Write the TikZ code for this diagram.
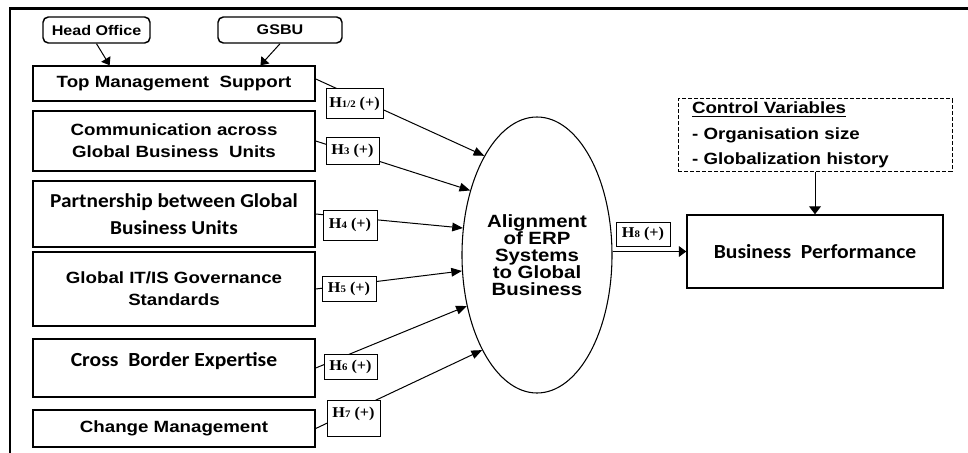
\documentclass[tikz,border=0pt]{standalone}
\usepackage{fontspec}
\usetikzlibrary{shapes.geometric,arrows.meta,calc}
\newfontfamily\arialf{Liberation Sans}[FakeStretch=1.15]
\newfontfamily\calif{Carlito}[FakeStretch=1.08]
\newfontfamily\timesf{Liberation Serif}[FakeStretch=1.08]
\newcommand\hsub[1]{{\fontsize{7.5}{8}\selectfont #1}}
\begin{document}
\begin{tikzpicture}[x=0.75pt,y=-0.75pt,
  ibox/.style={draw, line width=1.1pt, minimum width=211.5pt, inner sep=0pt, align=center},
  afont/.style={font=\arialf\bfseries\fontsize{12.2}{16.5}\selectfont},
  cfont/.style={font=\calif\bfseries\fontsize{14.8}{20}\selectfont},
  hlab/.style={draw, fill=white, line width=0.75pt, inner sep=0pt, font=\timesf\bfseries\fontsize{11.25}{12}\selectfont},
  tbox/.style={draw, rounded corners=4pt, line width=1.1pt, inner sep=0pt, minimum height=19.5pt, font=\arialf\bfseries\fontsize{10.5}{12}\selectfont},
  conn/.style={line width=0.75pt, -{Triangle[length=8pt,width=6.5pt]}},
  sconn/.style={line width=0.75pt, -{Triangle[length=5.5pt,width=8pt]}}]
\useasboundingbox (0,0) rectangle (968,453);
% frame
\draw[line width=2.2pt] (10,460) -- (10,8.5) -- (975,8.5);
% top boxes
\node[tbox, minimum width=80.25pt] (ho) at (96.5,30) {Head Office};
\node[tbox, minimum width=93pt] (gs) at (280,30) {GSBU};
% left column
\node[ibox, afont, minimum height=26.25pt] (tms) at (174,83.5) {Top Management\ \ Support};
\node[ibox, afont, minimum height=45pt] (comm) at (174,141) {Communication across\\Global Business\ \ Units};
\node[ibox, cfont, minimum height=49.5pt] (part) at (174,214) {Partnership between Global\\Business Units};
\node[ibox, afont, minimum height=55.5pt] (git) at (174,289) {Global IT/IS Governance\\Standards};
\node[ibox, font=\calif\bfseries\fontsize{15}{18}\selectfont, minimum height=43.5pt, text height=11pt, text depth=13pt] (cb) at (174,368) {Cross\ \ Border Expertise};
\node[ibox, afont, minimum height=27.75pt] (cm) at (174,428.5) {Change Management};
% ellipse
\node[ellipse, draw, line width=0.8pt, minimum width=112.5pt, minimum height=207pt, inner sep=0pt, align=center,
  font=\arialf\bfseries\fontsize{13.3}{12.75}\selectfont] (ell) at (537,255) {Alignment\\of ERP\\Systems\\to Global\\Business};
% right side
\node[draw, line width=1.1pt, minimum width=192pt, minimum height=54.75pt, inner sep=0pt,
  font=\calif\bfseries\fontsize{15}{18}\selectfont] (bp) at (815,251.5) {Business\ \ Performance};
\node[draw, dashed, dash pattern=on 3pt off 1.5pt, line width=0.75pt, minimum width=205.5pt, minimum height=54pt,
  text width=184.5pt, inner xsep=10.5pt, inner ysep=0pt, align=left,
  font=\arialf\bfseries\fontsize{12.2}{19}\selectfont] (cv) at (815,135)
  {\underline{Control Variables}\\- Organisation size\\- Globalization history};
% connectors
\draw[sconn] (ho.south) -- ($(tms.north west)!0.273!(tms.north east)$);
\draw[sconn] (gs.south) -- ($(tms.north west)!0.805!(tms.north east)$);
\draw[conn] ([yshift=3.4pt]tms.east) -- (ell.118.7);
\draw[conn] (comm.east) -- (ell.136.3);
\draw[conn] (part.east) -- (ell.160.2);
\draw[conn] (git.east) -- (ell.192);
\draw[conn] (cb.east) -- (ell.216.6);
\draw[conn] (cm.east) -- (ell.240.8);
\draw[sconn] (ell.east |- bp.west) -- (bp.west);
\draw[line width=0.75pt, -{Triangle[length=6pt,width=9pt]}] (cv.south) -- (bp.north);
% hypothesis labels
\node[hlab, minimum width=42.75pt, minimum height=22.5pt] (h12) at (354.5,104) {H\hsub{1/2} (+)};
\node[hlab, minimum width=39.75pt, minimum height=19.5pt] (h3) at (352.5,151) {H\hsub{3} (+)};
\node[hlab, minimum width=40.5pt, minimum height=22.5pt] (h4) at (350,225) {H\hsub{4} (+)};
\node[hlab, minimum width=40.5pt, minimum height=18.75pt] (h5) at (349,288.5) {H\hsub{5} (+)};
\node[hlab, minimum width=39.75pt, minimum height=18.75pt] (h6) at (350.5,366.5) {H\hsub{6} (+)};
\node[hlab, minimum width=39.75pt, minimum height=27pt, text height=7.7pt, text depth=8.2pt] (h7) at (353.5,418) {H\hsub{7} (+)};
\node[hlab, minimum width=40.5pt, minimum height=18pt] (h8) at (643,234) {H\hsub{8} (+)};
\end{tikzpicture}
\end{document}
